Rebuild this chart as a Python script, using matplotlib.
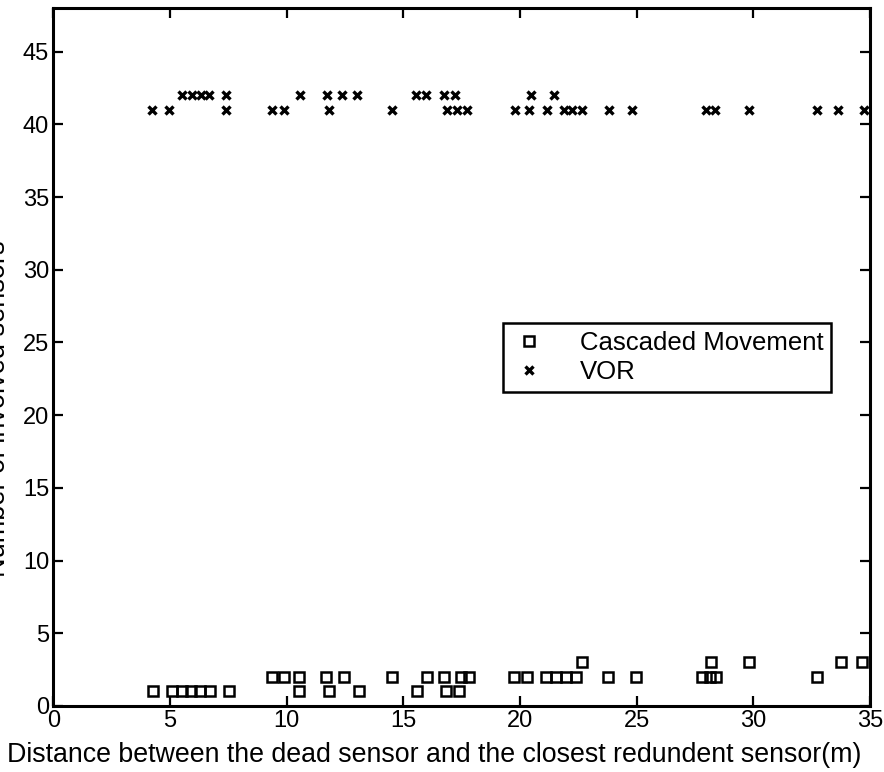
import matplotlib
matplotlib.use("Agg")
import matplotlib.pyplot as plt

plt.rcParams['font.family'] = ['Liberation Sans', 'DejaVu Sans']

# Cascaded Movement: number of involved sensors
casc_x = [4.28, 5.10, 5.53, 5.91, 6.30, 6.73, 7.54, 10.54, 11.83, 13.11, 15.60, 16.84, 17.40,
          9.38, 9.90, 10.54, 11.70, 12.47, 14.52, 16.02, 16.75, 17.48, 17.82, 19.75, 20.31,
          21.12, 21.55, 21.98, 22.41, 23.78, 24.98, 27.81, 28.15, 28.41, 32.73,
          22.66, 28.19, 29.82, 33.76, 34.66]
casc_y = [1] * 13 + [2] * 22 + [3] * 5

# VOR: number of involved sensors
vor_x = [4.24, 4.97, 7.41, 9.38, 9.90, 11.83, 14.52, 16.88, 17.31, 17.74, 19.80, 20.40,
         21.15, 21.90, 22.25, 22.65, 23.82, 24.81, 27.98, 28.37, 29.82, 32.73, 33.63, 34.75,
         5.53, 5.96, 6.34, 6.68, 7.41, 10.58, 11.74, 12.38, 13.02, 15.55, 15.98, 16.75,
         17.22, 20.48, 21.46]
vor_y = [41] * 24 + [42] * 15

x_ticks = [0, 5, 10, 15, 20, 25, 30, 35]
y_ticks = [0, 5, 10, 15, 20, 25, 30, 35, 40, 45]

W, H = 884, 772
fig = plt.figure(figsize=(W / 100, H / 100), dpi=100)
ax = fig.add_axes([53.3 / W, 1 - 706 / H, (870 - 53.3) / W, (706 - 8) / H])

ax.plot(casc_x, casc_y, linestyle='none', marker='s', markersize=7,
        markerfacecolor='none', markeredgecolor='black', markeredgewidth=1.8,
        label='Cascaded Movement')
ax.plot(vor_x, vor_y, linestyle='none', marker='x', markersize=6,
        color='black', markeredgewidth=2.4, label='VOR')

ax.set_xlim(0, 35)
ax.set_ylim(0, 48)
ax.set_xticks(x_ticks)
ax.set_yticks(y_ticks)
ax.tick_params(direction='in', length=7, width=1.6, top=True, right=True,
               labelsize=17, pad=3, colors='black')
for s in ax.spines.values():
    s.set_linewidth(2.2)

ax.set_xlabel('Distance between the dead sensor and the closest redundent sensor(m)',
              fontsize=19.3, labelpad=1)
ax.xaxis.set_label_coords((434 - 53.3) / (870 - 53.3), -0.052)
fig.text(11 / W, 0.47, 'Number of involved sensors', rotation=90,
         ha='right', va='center', fontsize=19.5)

leg = ax.legend(loc='upper left', bbox_to_anchor=(503 / W, 1 - 323 / H),
                bbox_transform=fig.transFigure, borderaxespad=0, fontsize=18.5,
                frameon=True, fancybox=False, edgecolor='black', framealpha=1,
                numpoints=1, handlelength=1.4, handletextpad=1.3,
                borderpad=0.3, labelspacing=0.2)
leg.get_frame().set_linewidth(1.8)

fig.savefig('out.png', dpi=100)
